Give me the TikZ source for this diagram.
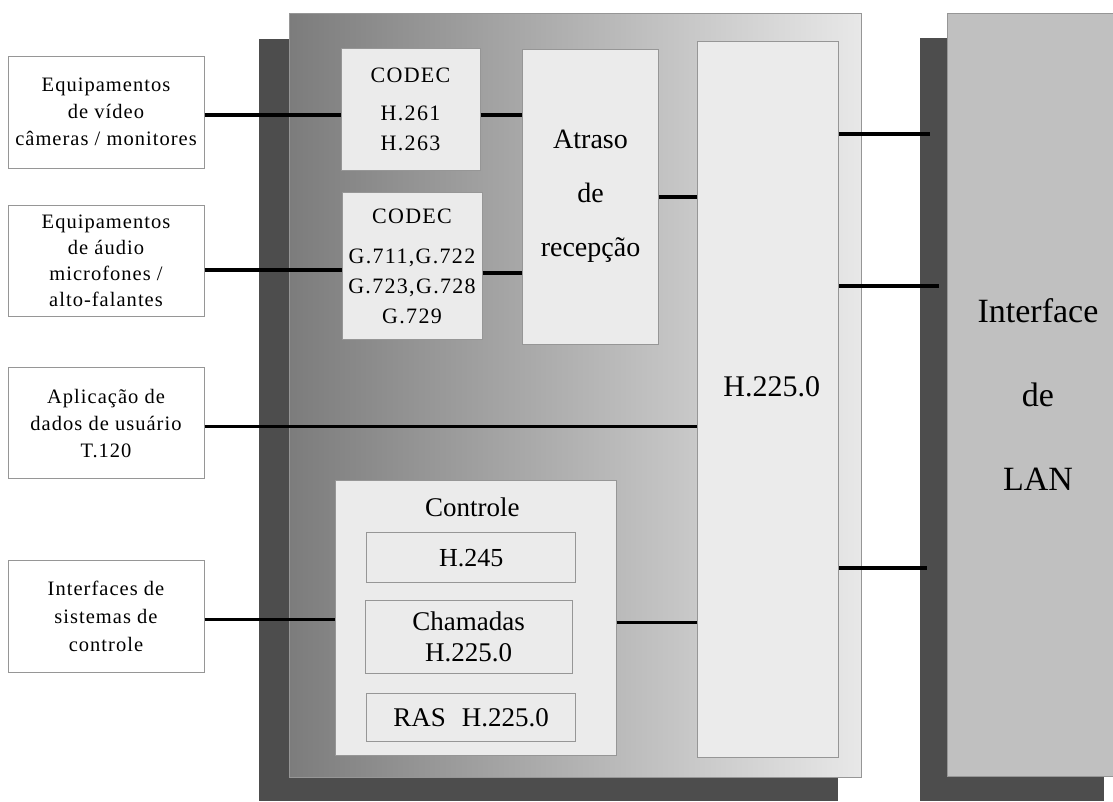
\documentclass[tikz,border=0pt]{standalone}
\usepackage{fontspec}
\setmainfont{Liberation Serif}
\newfontfamily\spacedfont[LetterSpace=5]{Liberation Serif}
\newfontfamily\codecfont[LetterSpace=6]{Liberation Serif}
\definecolor{shadowgray}{RGB}{77,77,77}
\definecolor{bordergray}{RGB}{150,150,150}
\definecolor{innerfill}{RGB}{235,235,235}
\definecolor{langray}{RGB}{192,192,192}
\definecolor{gradL}{RGB}{124,124,124}
\definecolor{gradR}{RGB}{232,232,232}
\begin{document}
\begin{tikzpicture}[x=1pt,y=-1pt,
  outbox/.style={draw=bordergray, line width=1pt, fill=white, inner sep=0pt, align=center,
    minimum width=196pt, font=\spacedfont\fontsize{20.5}{27}\selectfont},
  inbox/.style={draw=bordergray, line width=1pt, fill=innerfill, inner sep=0pt, align=center},
  codectext/.style={font=\codecfont\fontsize{22}{30}\selectfont},
  lbl/.style={inner sep=0pt, align=center},
  wire/.style={line width=4pt, black},
  thinwire/.style={line width=2.7pt, black}]
\useasboundingbox (0,0) rectangle (1113,801);
\fill[white] (0,0) rectangle (1113,801);
% main block with shadow
\fill[shadowgray] (259,39) rectangle (838,801);
\shadedraw[left color=gradL, right color=gradR, draw=bordergray, line width=1pt] (289,13) rectangle (861,777);
% LAN block with shadow
\fill[shadowgray] (920,38) rectangle (1104,801);
\node[draw=bordergray, line width=1pt, fill=langray, inner sep=0pt, minimum width=182pt, minimum height=763pt,
  align=center, font=\fontsize{34}{84}\selectfont] (lan) at (1038,395) {Interface\\de\\LAN};
% left boxes
\node[outbox, minimum height=112pt] (vid) at (106,112) {Equipamentos\\de vídeo\\câmeras / monitores};
\node[outbox, minimum height=111pt, font=\spacedfont\fontsize{20.5}{26}\selectfont] (aud) at (106,261)
  {Equipamentos\\de áudio\\microfones /\\alto-falantes};
\node[outbox, minimum height=111pt] (dat) at (106,423.4) {Aplicação de\\dados de usuário\\T.120};
\node[outbox, minimum height=112pt, font=\spacedfont\fontsize{20.5}{28}\selectfont] (ctl) at (106,616) {Interfaces de\\sistemas de\\controle};
% inner boxes
\node[inbox, codectext, minimum width=139pt, minimum height=122pt] (cv) at (410.5,109) {CODEC\\[8pt]H.261\\H.263};
\node[inbox, codectext, minimum width=140pt, minimum height=147pt] (ca) at (412,266) {CODEC\\[10pt]G.711,G.722\\G.723,G.728\\G.729};
\node[inbox, minimum width=136pt, minimum height=295pt, font=\fontsize{28}{54}\selectfont] (atr) at (590.5,196.7) {Atraso\\de\\recepção};
\node[inbox, minimum width=141pt, minimum height=716pt] (h225) at (768,399) {};
\node[lbl, font=\fontsize{30}{36}\selectfont] (h225lbl) at (771.7,386.7) {H.225.0};
\node[inbox, minimum width=281pt, minimum height=275pt] (ctrl) at (475.5,618.4) {};
\node[lbl, font=\fontsize{27}{32}\selectfont] (ctrllbl) at (472.3,507.7) {Controle};
\node[inbox, minimum width=209pt, minimum height=50pt, font=\fontsize{26}{31}\selectfont] (h245) at (471.2,557.7) {H.245};
\node[inbox, minimum width=207pt, minimum height=73pt, font=\fontsize{27}{31}\selectfont] (cham) at (468.7,636.7) {Chamadas\\H.225.0};
\node[inbox, minimum width=209pt, minimum height=48pt, font=\fontsize{27}{31}\selectfont] (ras) at (471.2,717.5) {RAS\hspace{16pt}H.225.0};
% connectors
\draw[wire] ([yshift=-3pt]vid.east) -- ([yshift=-3pt]vid.east -| cv.west);
\draw[wire] ([yshift=-6pt]cv.east) -- ([yshift=-6pt]cv.east -| atr.west);
\draw[wire] ([yshift=-9pt]aud.east) -- ([yshift=-9pt]aud.east -| ca.west);
\draw[wire] ([yshift=-6.7pt]ca.east) -- ([yshift=-6.7pt]ca.east -| atr.west);
\draw[wire] (atr.east) -- (atr.east -| h225.west);
\draw[thinwire] ([yshift=-3.3pt]dat.east) -- ([yshift=-3.3pt]dat.east -| h225.west);
\draw[thinwire] ([yshift=-3.3pt]ctl.east) -- ([yshift=-3.3pt]ctl.east -| ctrl.west);
\draw[thinwire] ([yshift=-4.3pt]ctrl.east) -- ([yshift=-4.3pt]ctrl.east -| h225.west);
\coordinate (e1) at (930,134.3);
\coordinate (e2) at (939,286);
\coordinate (e3) at (927,567.7);
\draw[wire] (e1 -| h225.east) -- (e1);
\draw[wire] (e2 -| h225.east) -- (e2);
\draw[wire] (e3 -| h225.east) -- (e3);
\end{tikzpicture}
\end{document}
